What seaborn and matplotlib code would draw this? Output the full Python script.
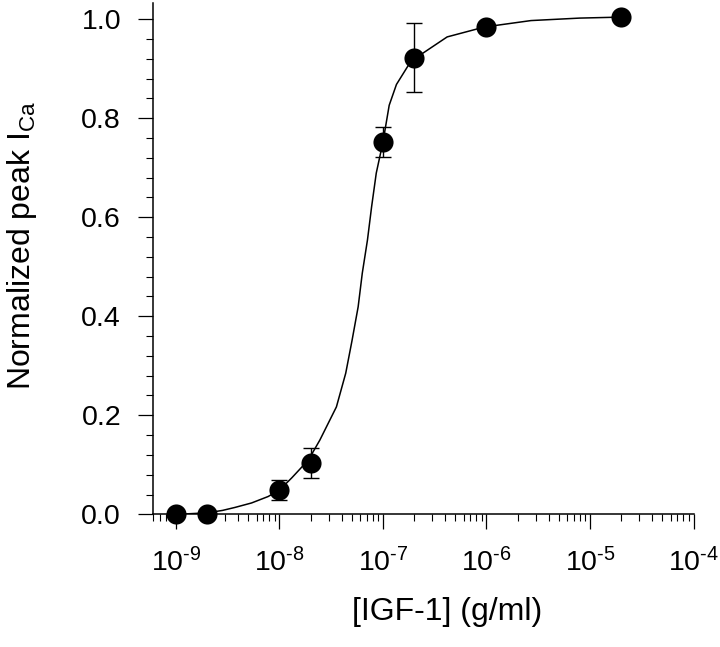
import matplotlib
matplotlib.use("Agg")
import matplotlib.pyplot as plt
import matplotlib.ticker as mtick
import seaborn as sns
import numpy as np
import pandas as pd

# measured points
conc = [1e-9, 2e-9, 1e-8, 2e-8, 1e-7, 2e-7, 1e-6, 2e-5]
peak = [0.0, 0.001, 0.050, 0.103, 0.752, 0.922, 0.984, 1.004]
sem = [0.0, 0.0, 0.02, 0.03, 0.03, 0.07, 0.01, 0.0]

# fitted curve (log10 concentration, normalized current)
fit_logx = [-9.0, -8.70, -8.55, -8.43, -8.27, -8.11, -8.0, -7.88, -7.72,
            -7.61, -7.45, -7.36, -7.30, -7.24, -7.20, -7.15, -7.11, -7.065,
            -7.0, -6.94, -6.87, -6.73, -6.38, -6.02, -5.57, -5.10, -4.70]
fit_y = [0.0, 0.003, 0.008, 0.014, 0.023, 0.036, 0.049, 0.074, 0.110,
         0.150, 0.217, 0.285, 0.350, 0.419, 0.487, 0.554, 0.621, 0.689,
         0.752, 0.826, 0.868, 0.915, 0.964, 0.984, 0.997, 1.002, 1.004]

xtick_labels = ["10$^{\\text{-}9}$", "10$^{\\text{-}8}$", "10$^{\\text{-}7}$",
                "10$^{\\text{-}6}$", "10$^{\\text{-}5}$", "10$^{\\text{-}4}$"]

pts = pd.DataFrame({"conc": conc, "peak": peak})
fit = pd.DataFrame({"conc": 10.0 ** np.array(fit_logx), "peak": fit_y})

sns.set_style("ticks")
plt.rcParams["font.family"] = ["Liberation Sans", "DejaVu Sans"]
plt.rcParams["mathtext.fontset"] = "custom"
plt.rcParams["mathtext.rm"] = "Liberation Sans"
plt.rcParams["mathtext.it"] = "Liberation Sans:italic"
plt.rcParams["text.color"] = "black"
plt.rcParams["axes.labelcolor"] = "black"
plt.rcParams["xtick.color"] = "black"
plt.rcParams["ytick.color"] = "black"
plt.rcParams["axes.edgecolor"] = "black"

fig = plt.figure(figsize=(7.2, 6.47), dpi=100)
ax = fig.add_axes([0.2125, 0.205, 0.7507, 0.79])

sns.lineplot(data=fit, x="conc", y="peak", color="black", linewidth=1.1, ax=ax, sort=False)
ax.errorbar(conc, peak, yerr=sem, fmt="none", ecolor="black", elinewidth=1.0,
            capsize=5.5, capthick=1.0, zorder=3)
sns.scatterplot(data=pts, x="conc", y="peak", color="black", s=210, edgecolor="black",
                linewidth=0, ax=ax, zorder=4, clip_on=False)

ax.set_xscale("log")
ax.set_xlim(10 ** -9.222, 1e-4)
ax.set_ylim(0, 1.032)

ax.set_yticks([0.0, 0.2, 0.4, 0.6, 0.8, 1.0])
ax.yaxis.set_minor_locator(mtick.MultipleLocator(0.04))
ax.yaxis.set_major_formatter(mtick.FormatStrFormatter("%.1f"))
ax.set_xticks([1e-9, 1e-8, 1e-7, 1e-6, 1e-5, 1e-4])
ax.xaxis.set_minor_locator(mtick.LogLocator(base=10, subs=np.arange(2, 10)))
ax.xaxis.set_minor_formatter(mtick.NullFormatter())
ax.xaxis.set_major_formatter(mtick.FixedFormatter(xtick_labels))

sns.despine(ax=ax)
for s in ["left", "bottom"]:
    ax.spines[s].set_linewidth(1.1)
ax.tick_params(which="major", length=11, width=0.9, labelsize=20.5)
ax.tick_params(which="minor", length=5, width=0.8)
ax.tick_params(axis="y", which="major", pad=12)
ax.tick_params(axis="x", which="major", pad=13)

ax.set_xlabel("[IGF-1] (g/ml)", fontsize=23)
ax.set_ylabel("Normalized peak I$_{\\mathrm{Ca}}$", fontsize=23)
ax.xaxis.set_label_coords(0.544, -0.162)
ax.yaxis.set_label_coords(-0.21, 0.526)

fig.savefig("out.png", dpi=100)
